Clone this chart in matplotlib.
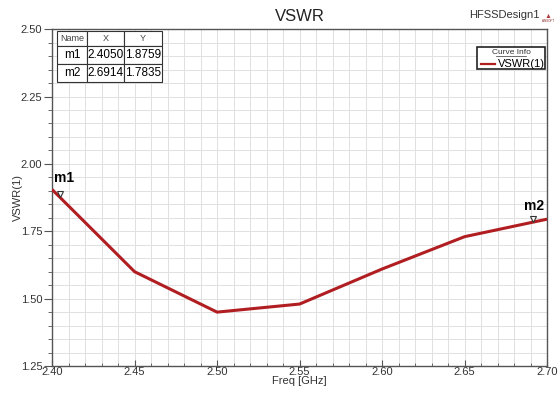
import numpy as np
import matplotlib.pyplot as plt
from matplotlib.patches import Rectangle
from matplotlib.ticker import MultipleLocator

plt.rcParams['font.family'] = ['Liberation Sans', 'DejaVu Sans']

# VSWR sweep samples
freq = [2.40, 2.45, 2.50, 2.55, 2.60, 2.65, 2.70]
vswr = [1.905, 1.60, 1.45, 1.48, 1.61, 1.73, 1.795]

# marker table
marker_names = ['m1', 'm2']
marker_x = [2.4050, 2.6914]
marker_y = [1.8759, 1.7835]

fig = plt.figure(figsize=(5.6, 3.94), dpi=100)
ax = fig.add_axes([0.093, 0.071, 0.884, 0.855])

ax.plot(freq, vswr, color='#b01e22', lw=2.2, solid_capstyle='butt', zorder=3)

ax.set_xlim(2.40, 2.70)
ax.set_ylim(1.25, 2.50)
ax.xaxis.set_major_locator(MultipleLocator(0.05))
ax.xaxis.set_minor_locator(MultipleLocator(0.01))
ax.yaxis.set_major_locator(MultipleLocator(0.25))
ax.yaxis.set_minor_locator(MultipleLocator(0.05))
ax.set_xticklabels([f'{v:.2f}' for v in ax.get_xticks()])
ax.set_yticklabels([f'{v:.2f}' for v in ax.get_yticks()])
ax.grid(which='both', color='#e0e0e0', lw=0.7, zorder=0)
ax.tick_params(axis='y', which='major', direction='out', length=6, labelsize=8,
               color='#555555', labelcolor='#333333', pad=1)
ax.tick_params(axis='y', which='minor', direction='out', length=3, color='#555555')
ax.tick_params(axis='x', which='major', direction='in', length=4, labelsize=8,
               color='#555555', labelcolor='#333333', pad=1)
ax.tick_params(axis='x', which='minor', direction='in', length=2, color='#555555')
for s in ax.spines.values():
    s.set_color('#555555')
    s.set_linewidth(1.0)

ax.set_title('VSWR', fontsize=12, color='#222222', pad=6)
ax.set_xlabel('Freq [GHz]', fontsize=8, color='#333333', labelpad=-1)
ax.set_ylabel('VSWR(1)', fontsize=8, color='#333333')
ax.yaxis.set_label_coords(-0.058, 0.5)

fig.text(0.838, 0.955, 'HFSSDesign1', fontsize=8, color='#333333', ha='left')
# small logo in the corner
fig.text(0.978, 0.955, '\u25B2', fontsize=5, color='#b04040', ha='center')
fig.text(0.978, 0.943, 'ANSOFT', fontsize=2.2, color='#8a2020', ha='center')

# markers on the curve
for name, mx, my in zip(marker_names, marker_x, marker_y):
    ax.plot(mx, my + 0.012, marker='v', ms=4, mfc='white', mec='#333333', mew=0.8,
            zorder=4, clip_on=False)
ax.annotate('m1', (marker_x[0], marker_y[0]), xytext=(3, 9), textcoords='offset points',
            fontsize=10, fontweight='bold', ha='center', va='bottom')
ax.annotate('m2', (marker_x[1], marker_y[1]), xytext=(1, 7), textcoords='offset points',
            fontsize=10, fontweight='bold', ha='center', va='bottom')

# marker table
rows = [[n, f'{x:.4f}', f'{y:.4f}'] for n, x, y in zip(marker_names, marker_x, marker_y)]
tab = ax.table(cellText=rows, colLabels=['Name', 'X', 'Y'],
               bbox=[0.01, 0.843, 0.212, 0.151], cellLoc='center', zorder=5)
tab.auto_set_font_size(False)
col_w = [30, 37, 38]
for (r, c), cell in tab.get_celld().items():
    cell.set_edgecolor('#333333')
    cell.set_linewidth(0.8)
    cell.set_facecolor('white')
    cell.set_width(col_w[c])
    cell.PAD = 0.02
    if r == 0:
        cell.get_text().set_fontsize(6.5)
        cell.get_text().set_color('#444444')
        cell.set_height(0.8)
    else:
        cell.get_text().set_fontsize(8.5)
        cell.set_height(1.0)

# curve info box
ax.add_patch(Rectangle((0.859, 0.881), 0.137, 0.066, transform=ax.transAxes,
                       fill=True, fc='white', ec='#222222', lw=1.2, zorder=5))
ax.text(0.927, 0.93, 'Curve Info', transform=ax.transAxes, fontsize=6,
        ha='center', va='center', color='#333333', zorder=6)
ax.plot([0.896, 0.958], [0.9195, 0.9195], transform=ax.transAxes, color='#333333', lw=0.5, zorder=6)
ax.plot([0.866, 0.894], [0.898, 0.898], transform=ax.transAxes, color='#b01e22', lw=1.6, zorder=6)
ax.text(0.9, 0.898, 'VSWR(1)', transform=ax.transAxes, fontsize=8,
        ha='left', va='center', zorder=6)

fig.savefig('out.png', dpi=100, facecolor='white')
